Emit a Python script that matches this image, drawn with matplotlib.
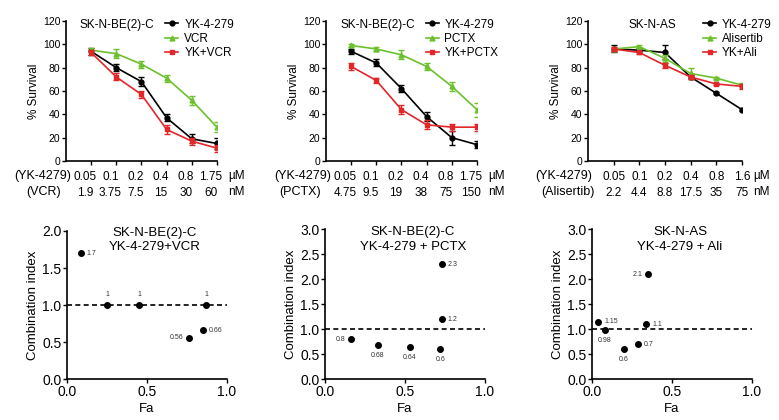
import numpy as np
import matplotlib.pyplot as plt
from matplotlib.transforms import ScaledTranslation

plt.rcParams['font.family'] = ['Liberation Sans', 'DejaVu Sans']

# ---- survival data (top row) ----
yk_dose = ["0.05", "0.1", "0.2", "0.4", "0.8", "1.75"]
vcr_dose = ["1.9", "3.75", "7.5", "15", "30", "60"]
pctx_dose = ["4.75", "9.5", "19", "38", "75", "150"]
yk_dose3 = ["0.05", "0.1", "0.2", "0.4", "0.8", "1.6"]
ali_dose = ["2.2", "4.4", "8.8", "17.5", "35", "75"]

yk_1 = [94, 80, 68, 37, 19, 15]
yk_1_err = [3, 3, 4, 3, 4, 5]
vcr = [95, 92, 83, 71, 52, 29]
vcr_err = [2, 4, 3, 3, 4, 4]
yk_vcr = [93, 72, 57, 27, 17, 11]
yk_vcr_err = [2, 3, 3, 4, 3, 3]

yk_2 = [94, 84, 62, 38, 20, 14]
yk_2_err = [2, 3, 3, 4, 6, 3]
pctx = [99, 96, 91, 81, 64, 44]
pctx_err = [1, 2, 4, 3, 4, 6]
yk_pctx = [81, 69, 44, 31, 29, 29]
yk_pctx_err = [3, 2, 4, 4, 3, 3]

yk_3 = [96, 95, 93, 72, 58, 44]
yk_3_err = [3, 2, 6, 2, 1, 1]
ali = [96, 98, 88, 75, 71, 65]
ali_err = [2, 1, 3, 5, 1, 2]
yk_ali = [96, 93, 82, 72, 66, 64]
yk_ali_err = [2, 1, 2, 2, 1, 2]

# ---- combination index data (bottom row) ----
fa_vcr = [0.09, 0.25, 0.45, 0.87, 0.76, 0.85]
ci_vcr = [1.7, 1, 1, 1, 0.56, 0.66]
lab_vcr = ["1.7", "1", "1", "1", "0.56", "0.66"]
pos_vcr = ["r", "t", "t", "t", "l", "r"]

fa_pctx = [0.16, 0.33, 0.53, 0.72, 0.73, 0.73]
ci_pctx = [0.8, 0.68, 0.64, 0.6, 1.2, 2.3]
lab_pctx = ["0.8", "0.68", "0.64", "0.6", "1.2", "2.3"]
pos_pctx = ["l", "b", "b", "b", "r", "r"]

fa_ali = [0.04, 0.08, 0.2, 0.29, 0.34, 0.35]
ci_ali = [1.15, 0.98, 0.6, 0.7, 1.1, 2.1]
lab_ali = ["1.15", "0.98", "0.6", "0.7", "1.1", "2.1"]
pos_ali = ["r", "b", "b", "r", "r", "l"]

black = "#000000"
green = "#6cc02c"
red = "#e3262a"

fig = plt.figure(figsize=(7.79, 4.20), dpi=100)


def survival(rect, title, title_x, leg_x, doses1, doses2, drug, hx, shift, series):
    ax = fig.add_axes(rect)
    x = np.arange(6)
    for vals, err, col, mk, ms, lab in series:
        ax.errorbar(x, vals, yerr=err, fmt='none', ecolor=col, elinewidth=1.0,
                    capsize=2, capthick=1.0)
        ax.plot(x, vals, color=col, marker=mk, markersize=ms, lw=1.2, label=lab)
    ax.set_xlim(-1, 5)
    ax.set_ylim(0, 120)
    ax.set_yticks(range(0, 121, 20))
    ax.set_xticks(x)
    ax.tick_params(axis='y', labelsize=7.5, length=3, width=1, pad=1)
    ax.tick_params(axis='x', length=3, width=1, pad=4)
    ax.set_xticklabels([a + "\n" + b for a, b in zip(doses1, doses2)],
                       fontsize=8.5, linespacing=1.45)
    # labels in the original sit a little left of the ticks
    off = ScaledTranslation(shift / 100, 0, fig.dpi_scale_trans)
    for t in ax.get_xticklabels():
        t.set_transform(t.get_transform() + off)
    for s in ['top', 'right']:
        ax.spines[s].set_visible(False)
    for s in ['left', 'bottom']:
        ax.spines[s].set_linewidth(1.2)
    ax.set_ylabel("% Survival", fontsize=8.5, labelpad=2)
    ax.text(title_x, 0.97, title, transform=ax.transAxes, ha='center',
            va='center', fontsize=8.5)
    tr = ax.get_xaxis_transform()
    ax.text(5.45, -0.105, "µM", transform=tr, ha='left', va='center', fontsize=8.5)
    ax.text(5.45, -0.222, "nM", transform=tr, ha='left', va='center', fontsize=8.5)
    ax.text(hx[0], -0.105, "(YK-4279)", transform=tr, ha='right', va='center',
            fontsize=9)
    ax.text(hx[1], -0.222, "(" + drug + ")", transform=tr, ha='right',
            va='center', fontsize=9)
    ax.legend(loc='upper left', bbox_to_anchor=(leg_x, 1.06), frameon=False,
              fontsize=8.5, handlelength=1.1, handletextpad=0.5,
              labelspacing=0.2, borderpad=0)
    return ax


survival([0.0847, 0.6167, 0.1938, 0.3333], "SK-N-BE(2)-C", 0.34, 0.62,
         yk_dose, vcr_dose, "VCR", (-0.8, -1.2), -6,
         [(yk_1, yk_1_err, black, 'o', 3.5, "YK-4-279"),
          (vcr, vcr_err, green, '^', 3.5, "VCR"),
          (yk_vcr, yk_vcr_err, red, 's', 3.5, "YK+VCR")])
survival([0.4185, 0.6167, 0.1938, 0.3333], "SK-N-BE(2)-C", 0.34, 0.62,
         yk_dose, pctx_dose, "PCTX", (-0.8, -1.2), -6,
         [(yk_2, yk_2_err, black, 'o', 3.5, "YK-4-279"),
          (pctx, pctx_err, green, '^', 3.5, "PCTX"),
          (yk_pctx, yk_pctx_err, red, 's', 3.5, "YK+PCTX")])
survival([0.7548, 0.6167, 0.1977, 0.3333], "SK-N-AS", 0.42, 0.71,
         yk_dose3, ali_dose, "Alisertib", (-0.84, -0.76), 0,
         [(yk_3, yk_3_err, black, 'o', 3.5, "YK-4-279"),
          (ali, ali_err, green, '^', 3.5, "Alisertib"),
          (yk_ali, yk_ali_err, red, 's', 3.5, "YK+Ali")])

offsets = {"r": (4, 0, 'left', 'center'), "l": (-4, 0, 'right', 'center'),
           "t": (0, 5, 'center', 'bottom'), "b": (0, -5, 'center', 'top')}


def combo(rect, title, title_y, fa, ci, labs, pos, ymax):
    ax = fig.add_axes(rect)
    ax.plot([0, 1], [1, 1], ls='--', color='black', lw=1.2, dashes=(3, 2))
    ax.plot(fa, ci, 'o', color='black', markersize=4, ls='none')
    for f, c, l, p in zip(fa, ci, labs, pos):
        dx, dy, ha, va = offsets[p]
        ax.annotate(l, (f, c), xytext=(dx, dy), textcoords='offset points',
                    ha=ha, va=va, fontsize=5, color='#333333')
    ax.set_xlim(0, 1)
    ax.set_ylim(0, ymax)
    ax.set_xticks([0, 0.5, 1.0])
    ax.set_yticks(np.arange(0, ymax + 0.01, 0.5))
    ax.xaxis.set_major_formatter(plt.FormatStrFormatter('%.1f'))
    ax.yaxis.set_major_formatter(plt.FormatStrFormatter('%.1f'))
    ax.tick_params(labelsize=10, length=3, width=1, pad=1)
    for s in ['top', 'right']:
        ax.spines[s].set_visible(False)
    for s in ['left', 'bottom']:
        ax.spines[s].set_linewidth(1.2)
    ax.set_xlabel("Fa", fontsize=9.5, labelpad=3)
    ax.set_ylabel("Combination index", fontsize=9.5, labelpad=2)
    ax.text(0.55, title_y, title, transform=ax.transAxes, ha='center',
            va='center', fontsize=9.5, linespacing=1.25)
    return ax


combo([0.0860, 0.0976, 0.2054, 0.3524], "SK-N-BE(2)-C\nYK-4-279+VCR", 0.94,
      fa_vcr, ci_vcr, lab_vcr, pos_vcr, 2.0)
combo([0.4172, 0.0976, 0.2054, 0.357], "SK-N-BE(2)-C\nYK-4-279 + PCTX", 0.93,
      fa_pctx, ci_pctx, lab_pctx, pos_pctx, 3.0)
combo([0.7600, 0.0976, 0.2054, 0.357], "SK-N-AS\nYK-4-279 + Ali", 0.93,
      fa_ali, ci_ali, lab_ali, pos_ali, 3.0)

fig.savefig("out.png", dpi=100)
